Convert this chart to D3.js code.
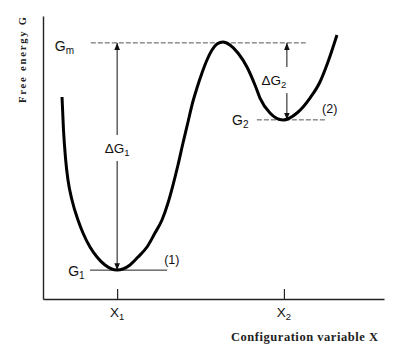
<!DOCTYPE html>
<html><head><meta charset="utf-8">
<script src="https://cdn.jsdelivr.net/npm/d3@7"></script>
<style>body{margin:0;background:#fff}svg{display:block}</style>
</head><body>
<svg id="c" width="400" height="355"></svg>
<script>
// ---- data ----
const curveX = [0.513,0.553,0.607,0.674,0.782,0.944,1.079,1.268,1.457,1.673,1.996,2.347,2.563,2.806,3.021,3.210,3.372,3.507,3.642,3.777,3.912,4.019,4.154,4.289,4.424,4.559,4.694,4.856,5.044,5.260,5.503,5.719,5.854,6.124,6.474,6.852,7.203,7.472,7.688,7.931];
const curveG = [7.138,5.972,4.982,4.205,3.498,2.792,2.332,1.837,1.484,1.201,1.025,1.201,1.484,1.837,2.332,2.792,3.392,4.028,4.735,5.512,6.254,6.855,7.456,7.986,8.445,8.799,9.011,9.081,8.975,8.693,8.198,7.562,7.102,6.572,6.325,6.572,7.102,7.668,8.375,9.329];
const levelNames = ["G","G","G"];
const levelSubs = ["m","1","2"];
const levelValues = [9.05, 1.02, 6.33];
const levelFrom = [1.29, 1.27, 5.77];
const levelTo = [7.12, 3.35, 7.63];
const stateLabels = ["(1)", "(2)"];
const xTickValues = [2, 6.5];
const xTickNames = ["X","X"];
const xTickSubs = ["1","2"];
const deltaNames = ["\u0394G","\u0394G"];
const deltaSubs = ["1","2"];
const deltaX = [2.0, 6.58];
const deltaTo = [1.02, 6.33];
const deltaLabelG = [5.3, 7.7];
const xTitle = "Configuration variable X";
const yTitle = "Free energy G";

// ---- scales ----
const svg = d3.select("#c");
const x = d3.scaleLinear().domain([0, 9.2]).range([43, 384]);
const y = d3.scaleLinear().domain([0, 10]).range([299, 16]);
const sans = "'Liberation Sans', Arial, sans-serif";
const serif = "'Liberation Serif', 'DejaVu Serif', serif";

svg.append("defs").selectAll("marker").data(["up","down"]).join("marker")
  .attr("id", d => "ar-" + d)
  .attr("viewBox", "0 0 10 10").attr("refX", 10).attr("refY", 5)
  .attr("markerWidth", 7).attr("markerHeight", 7).attr("markerUnits","userSpaceOnUse")
  .attr("orient", "auto")
  .append("path").attr("d", "M0,1 L10,5 L0,9 Z").attr("fill", "#111");

// axes
const yAxis = d3.axisLeft(y).tickValues([]).tickSizeOuter(0);
svg.append("g").attr("transform", `translate(${x(0)},0)`).call(yAxis)
  .select(".domain").attr("stroke", "#222").attr("stroke-width", 1.4);
const xAxis = d3.axisBottom(x).tickValues(xTickValues).tickSizeInner(-10).tickSizeOuter(0).tickFormat(() => "");
const gx = svg.append("g").attr("transform", `translate(0,${y(0)})`).call(xAxis);
gx.select(".domain").attr("stroke", "#222").attr("stroke-width", 1.4);
gx.selectAll(".tick line").attr("stroke", "#222").attr("stroke-width", 1.2);
xTickValues.forEach((v, i) => {
  const t = svg.append("text").attr("x", x(v)).attr("y", 317).attr("text-anchor", "middle")
    .attr("font-family", sans).attr("font-size", 13.5).attr("fill", "#111");
  t.append("tspan").text(xTickNames[i]);
  t.append("tspan").attr("dy", 3).attr("font-size", 9.5).text(xTickSubs[i]);
});

// level lines
const dashes = ["5,2", null, "5,2"];
levelValues.forEach((v, i) => {
  svg.append("line").attr("x1", x(levelFrom[i])).attr("x2", x(levelTo[i]))
    .attr("y1", y(v)).attr("y2", y(v))
    .attr("stroke", i === 1 ? "#222" : "#555").attr("stroke-width", 1)
    .attr("stroke-dasharray", dashes[i]);
});
// level labels
const levelLabelX = [x(0.32), x(0.68), x(5.1)];
const levelLabelDy = [8, 6, 5];
levelValues.forEach((v, i) => {
  const t = svg.append("text").attr("x", levelLabelX[i]).attr("y", y(v) + levelLabelDy[i])
    .attr("font-family", sans).attr("font-size", 14).attr("fill", "#111");
  t.append("tspan").text(levelNames[i]);
  t.append("tspan").attr("dy", 3).attr("font-size", 10).text(levelSubs[i]);
});
// state labels
svg.append("text").attr("x", x(3.27)).attr("y", y(levelValues[1]) - 6)
  .attr("font-family", sans).attr("font-size", 12.5).attr("fill", "#111").text(stateLabels[0]);
svg.append("text").attr("x", x(7.53)).attr("y", y(levelValues[2]) - 7)
  .attr("font-family", sans).attr("font-size", 12.5).attr("fill", "#111").text(stateLabels[1]);

// delta arrows
deltaX.forEach((dx, i) => {
  const px = x(dx), top = y(levelValues[0]), bot = y(deltaTo[i]), lc = y(deltaLabelG[i]);
  svg.append("line").attr("x1", px).attr("x2", px).attr("y1", lc - 14).attr("y2", top)
    .attr("stroke", "#111").attr("stroke-width", 1).attr("marker-end", "url(#ar-up)");
  svg.append("line").attr("x1", px).attr("x2", px).attr("y1", lc + 12).attr("y2", bot)
    .attr("stroke", "#111").attr("stroke-width", 1).attr("marker-end", "url(#ar-down)");
  const t = svg.append("text").attr("x", i === 0 ? px : px - 13).attr("y", lc + 4)
    .attr("text-anchor", "middle").attr("font-family", sans).attr("font-size", 13.5).attr("fill", "#111");
  t.append("tspan").text(deltaNames[i]);
  t.append("tspan").attr("dy", 3).attr("font-size", 9.5).text(deltaSubs[i]);
});

// curve
const pts = curveX.map((v, i) => [v, curveG[i]]);
svg.append("path").datum(pts)
  .attr("d", d3.line().x(d => x(d[0])).y(d => y(d[1])).curve(d3.curveMonotoneX))
  .attr("fill", "none").attr("stroke", "#000").attr("stroke-width", 3).attr("stroke-linecap", "butt");

// titles
svg.append("text").attr("x", 231).attr("y", 341)
  .attr("font-family", serif).attr("font-weight", "bold").attr("font-size", 12.5).attr("fill", "#222")
  .attr("textLength", 147).attr("lengthAdjust", "spacing").text(xTitle);
svg.append("text").attr("transform", "translate(26,60) rotate(-90)").attr("text-anchor", "middle")
  .attr("font-family", serif).attr("font-weight", "bold").attr("font-size", 10.5).attr("fill", "#222")
  .attr("textLength", 86).attr("lengthAdjust", "spacing").text(yTitle);
</script>
</body></html>
